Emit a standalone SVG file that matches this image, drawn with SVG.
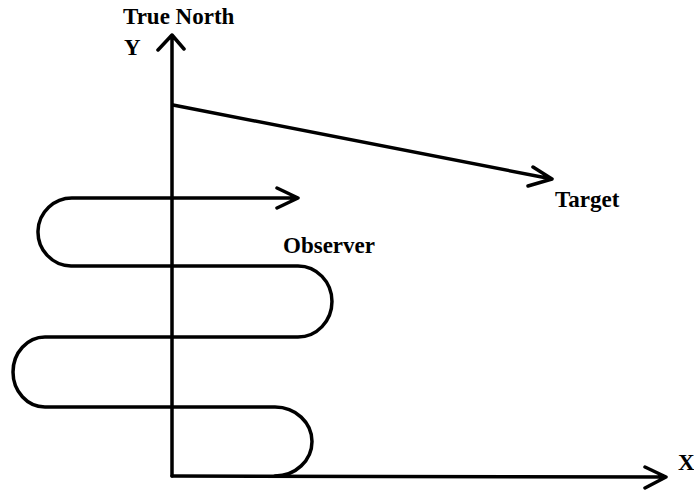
<svg xmlns="http://www.w3.org/2000/svg" width="694" height="490" viewBox="0 0 694 490">
<style>
.ln{fill:none;stroke:#000;stroke-width:3.5;stroke-linecap:round;stroke-linejoin:round}
.lbl{font-family:"Liberation Serif","Times New Roman",serif;font-weight:bold;font-size:23px;fill:#000}
</style>
<rect width="694" height="490" fill="#fff"/>
<g id="connectors">
<path id="y-axis" class="ln" d="M172 476 L172 35 M158 50 L172 35 L184 49"/>
<path id="x-axis" class="ln" d="M172 476 L666 477 M645 467 L666 477 L645 488"/>
<path id="bearing" class="ln" d="M173 105 L552 179 M533 167 L552 179 L528 186"/>
<path id="observer-path" class="ln" d="M275 476 A37 34.5 0 0 0 275 407 L45 407 A32 35 0 0 1 45 337 L298 337 A34 35.5 0 0 0 298 266 L71 266 A34 34 0 0 1 73 198 L298 198 M277 188 L298 198 L277 208"/>
</g>
<g id="true-north"><text class="lbl" x="123" y="24">True North</text></g>
<g id="y-label"><text class="lbl" x="124" y="55">Y</text></g>
<g id="x-label"><text class="lbl" x="678" y="470">X</text></g>
<g id="target"><text class="lbl" x="555" y="207">Target</text></g>
<g id="observer"><text class="lbl" x="283" y="253">Observer</text></g>
</svg>
